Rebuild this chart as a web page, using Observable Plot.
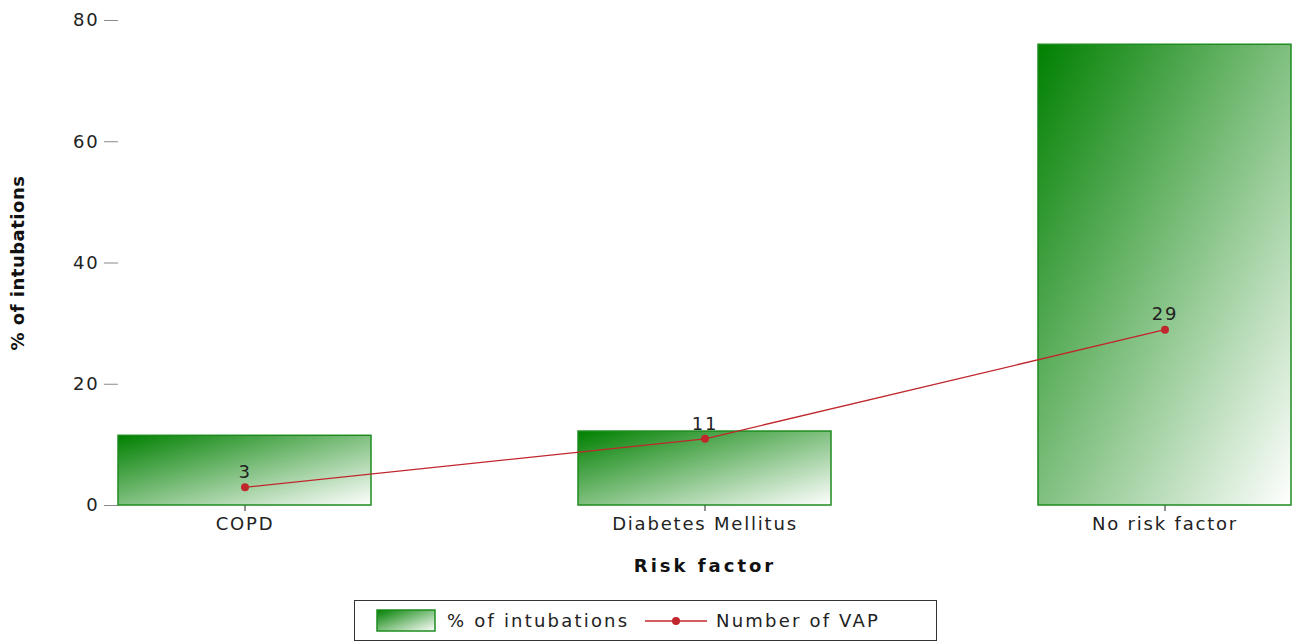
<!DOCTYPE html>
<html>
<head>
<meta charset="utf-8">
<script src="https://cdn.jsdelivr.net/npm/d3@7"></script>
<script src="https://cdn.jsdelivr.net/npm/@observablehq/plot@0.6"></script>
<style>
  html, body { margin: 0; padding: 0; background: #fff; }
  #wrap { position: relative; width: 1298px; height: 642px; font-family: "DejaVu Sans", sans-serif; }
  #wrap svg text { letter-spacing: 1.8px; }
  #legend { position: absolute; left: 354px; top: 600px; width: 583px; height: 41px; box-sizing: border-box;
    border: 1.5px solid #333; font-family: "DejaVu Sans", sans-serif; font-size: 18px; letter-spacing: 2.2px; color: #222; }
  #legend .item { position: absolute; top: 0; height: 100%; display: flex; align-items: center; }
</style>
</head>
<body>
<div id="wrap"></div>
<script>
const categories = ["COPD", "Diabetes Mellitus", "No risk factor"];
const intubationPct = [11.5, 12.2, 76];
const vapCounts = [3, 11, 29];
const yTicks = [0, 20, 40, 60, 80];
const seriesNames = ["% of intubations", "Number of VAP"];
const xTitle = "Risk factor";
const yTitle = "% of intubations";

const rows = categories.map((c, i) => ({category: c, pct: intubationPct[i], vap: vapCounts[i]}));

const GREEN = "#008000";
const BAR_STROKE = "#1e8c1e";
const RED = "#c0272d";

function gradientDefs(id) {
  return () => {
    const defs = d3.create("svg:defs");
    const g = defs.append("linearGradient").attr("id", id)
      .attr("x1", 0).attr("y1", 0).attr("x2", 1).attr("y2", 1);
    g.append("stop").attr("offset", "0%").attr("stop-color", GREEN);
    g.append("stop").attr("offset", "100%").attr("stop-color", "#ffffff");
    return defs.node();
  };
}

const chart = Plot.plot({
  width: 1298,
  height: 598,
  marginTop: 20,
  marginBottom: 93,
  marginLeft: 118,
  marginRight: 7,
  style: {fontFamily: "DejaVu Sans", fontSize: "18px", color: "#222", background: "#fff"},
  x: {domain: categories, paddingInner: 0.45, paddingOuter: 0, label: null},
  y: {domain: [0, 80], label: null},
  marks: [
    gradientDefs("barGrad"),
    Plot.axisY({ticks: yTicks, tickSize: 14, tickPadding: 5, stroke: "#8a8a8a", fill: "#222", label: null}),
    Plot.axisX({tickSize: 6, tickPadding: 6, stroke: "#222", fill: "#222", label: null}),
    Plot.barY(rows, {x: "category", y: "pct", fill: "url(#barGrad)", stroke: BAR_STROKE, strokeWidth: 1.5}),
    Plot.line(rows, {x: "category", y: "vap", stroke: RED, strokeWidth: 1.3}),
    Plot.dot(rows, {x: "category", y: "vap", r: 4, fill: RED}),
    Plot.text(rows, {x: "category", y: "vap", text: d => String(d.vap), dy: -15, fill: "#222"}),
    Plot.text([yTitle], {frameAnchor: "left", textAnchor: "middle", dx: -100, rotate: -90, fontWeight: "bold", fill: "#111"}),
    Plot.text([xTitle], {frameAnchor: "bottom", textAnchor: "middle", dy: 66, fontWeight: "bold", fill: "#111"})
  ]
});

d3.select(chart).selectAll("text").each(function() {
  const t = this.textContent;
  if (t === xTitle) d3.select(this).style("letter-spacing", "3px");
  if (t === yTitle) d3.select(this).style("letter-spacing", "0.5px");
});

const wrap = document.getElementById("wrap");
wrap.appendChild(chart);

// legend
const legend = document.createElement("div");
legend.id = "legend";
legend.innerHTML = `
  <div class="item" style="left:21px">
    <svg width="60" height="23" style="display:block">
      <defs><linearGradient id="legGrad" x1="0" y1="0" x2="1" y2="1">
        <stop offset="0%" stop-color="${GREEN}"/><stop offset="100%" stop-color="#ffffff"/></linearGradient></defs>
      <rect x="1" y="1" width="58" height="21" fill="url(#legGrad)" stroke="${BAR_STROKE}" stroke-width="1.5"/>
    </svg>
  </div>
  <div class="item" style="left:92px"><span>${seriesNames[0]}</span></div>
  <div class="item" style="left:290px">
    <svg width="64" height="12" style="display:block">
      <line x1="0" y1="6" x2="62" y2="6" stroke="${RED}" stroke-width="1.3"/>
      <circle cx="31" cy="6" r="4" fill="${RED}"/>
    </svg>
  </div>
  <div class="item" style="left:361px"><span>${seriesNames[1]}</span></div>
`;
wrap.appendChild(legend);
</script>
</body>
</html>
